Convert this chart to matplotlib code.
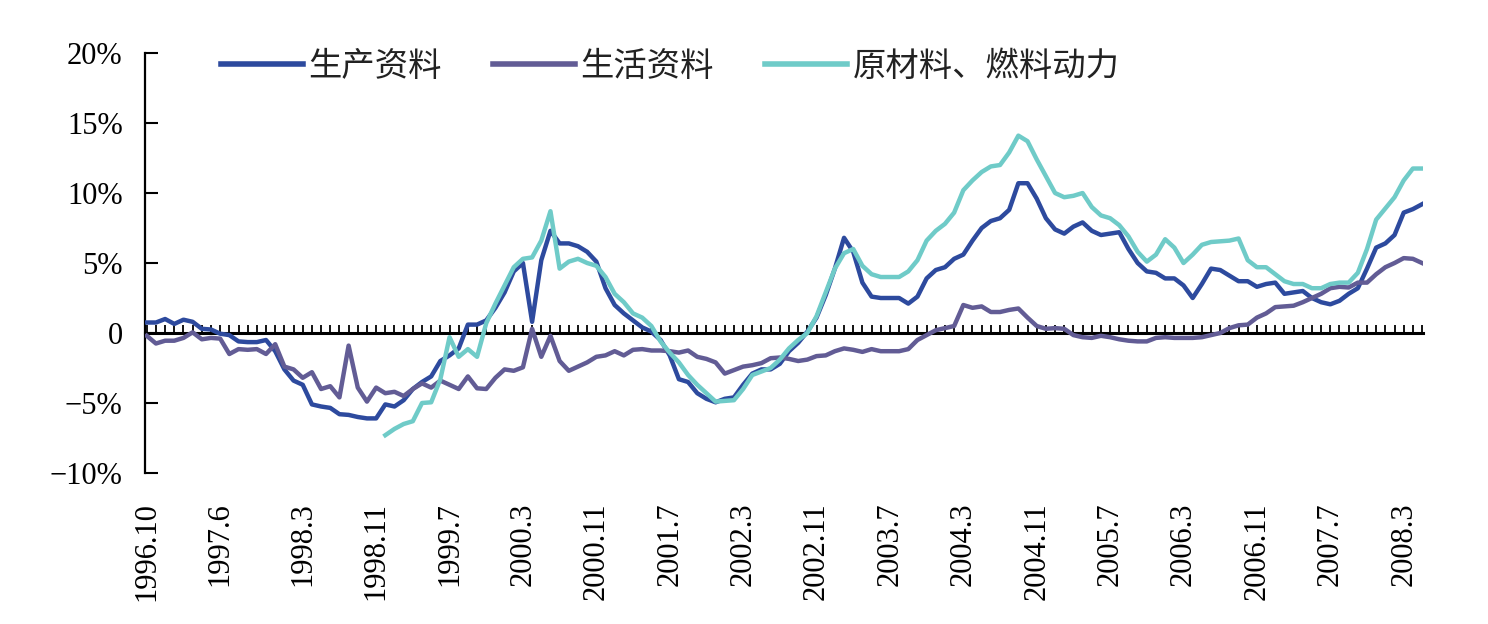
import matplotlib.pyplot as plt
import numpy as np

# monthly series, 1996.10 - 2008.5, year-on-year change in %
months = np.arange(140)

tick_labels = ['1996.10', '1997.6', '1998.3', '1998.11', '1999.7', '2000.3', '2000.11',
               '2001.7', '2002.3', '2002.11', '2003.7', '2004.3', '2004.11', '2005.7',
               '2006.3', '2006.11', '2007.7', '2008.3']
tick_idx = [0, 8, 17, 25, 33, 41, 49, 57, 65, 73, 81, 89, 97, 105, 113, 121, 129, 137]

production = [
    0.75, 0.75, 1.0, 0.65, 0.95, 0.8, 0.3, 0.25, -0.05, -0.15,
    -0.6, -0.65, -0.65, -0.5, -1.3, -2.6, -3.4, -3.7, -5.1, -5.25,
    -5.35, -5.8, -5.85, -6.0, -6.1, -6.1, -5.1, -5.25, -4.8, -4.0,
    -3.5, -3.1, -2.0, -1.6, -1.1, 0.6, 0.6, 0.9, 1.8, 2.9,
    4.4, 5.0, 0.8, 5.2, 7.3, 6.4, 6.4, 6.2, 5.8, 5.1,
    3.2, 2.0, 1.4, 0.9, 0.4, 0.1, -0.5, -1.6, -3.3, -3.5,
    -4.3, -4.7, -4.95, -4.7, -4.6, -3.7, -2.9, -2.6, -2.6, -2.2,
    -1.3, -0.7, 0.1, 1.1, 2.7, 4.6, 6.8, 5.8, 3.6, 2.6,
    2.5, 2.5, 2.5, 2.1, 2.6, 3.9, 4.5, 4.7, 5.3, 5.6,
    6.6, 7.5, 8.0, 8.2, 8.8, 10.7, 10.7, 9.6, 8.2, 7.4,
    7.1, 7.6, 7.9, 7.3, 7.0, 7.1, 7.2, 6.0, 5.0, 4.4,
    4.3, 3.9, 3.9, 3.4, 2.5, 3.5, 4.6, 4.5, 4.1, 3.7,
    3.7, 3.3, 3.5, 3.6, 2.8, 2.9, 3.0, 2.5, 2.2, 2.05,
    2.3, 2.8, 3.2, 4.6, 6.1, 6.4, 7.0, 8.6, 8.85, 9.2,
]

consumer = [
    -0.2, -0.75, -0.55, -0.55, -0.35, 0.05, -0.45, -0.35, -0.4, -1.5,
    -1.15, -1.2, -1.15, -1.5, -0.8, -2.4, -2.6, -3.2, -2.8, -4.0,
    -3.8, -4.6, -0.9, -3.9, -4.9, -3.9, -4.3, -4.2, -4.5, -4.0,
    -3.6, -3.9, -3.4, -3.7, -4.0, -3.1, -3.95, -4.0, -3.2, -2.6,
    -2.7, -2.45, 0.3, -1.7, -0.2, -2.0, -2.7, -2.4, -2.1, -1.7,
    -1.6, -1.3, -1.6, -1.2, -1.15, -1.25, -1.25, -1.3, -1.4, -1.25,
    -1.7, -1.85, -2.1, -2.9, -2.65, -2.4, -2.3, -2.15, -1.8, -1.75,
    -1.85, -2.0, -1.9, -1.65, -1.6, -1.3, -1.1, -1.2, -1.35, -1.15,
    -1.3, -1.3, -1.3, -1.15, -0.5, -0.15, 0.2, 0.35, 0.5, 2.0,
    1.8, 1.9, 1.5, 1.5, 1.65, 1.75, 1.1, 0.5, 0.3, 0.35,
    0.3, -0.15, -0.3, -0.35, -0.2, -0.3, -0.45, -0.55, -0.6, -0.6,
    -0.35, -0.3, -0.35, -0.35, -0.35, -0.3, -0.15, 0.0, 0.35, 0.55,
    0.6, 1.1, 1.4, 1.85, 1.9, 1.95, 2.2, 2.5, 2.8, 3.2,
    3.3, 3.25, 3.6, 3.6, 4.2, 4.7, 5.0, 5.35, 5.3, 5.0,
]

raw_fuel = [np.nan] * 26 + [
    -7.3, -6.85, -6.5, -6.3,
    -5.0, -4.95, -3.3, -0.3, -1.7, -1.15, -1.7, 0.7, 2.1, 3.4,
    4.7, 5.3, 5.4, 6.6, 8.7, 4.6, 5.1, 5.3, 5.0, 4.8,
    4.0, 2.8, 2.2, 1.4, 1.1, 0.5, -0.6, -1.4, -2.1, -3.0,
    -3.7, -4.3, -4.9, -4.85, -4.8, -4.0, -3.0, -2.75, -2.5, -1.9,
    -1.1, -0.5, 0.0, 1.2, 2.9, 4.6, 5.7, 6.0, 4.8, 4.2,
    4.0, 4.0, 4.0, 4.4, 5.2, 6.6, 7.3, 7.8, 8.6, 10.2,
    10.9, 11.5, 11.9, 12.0, 12.9, 14.1, 13.7, 12.4, 11.2, 10.0,
    9.7, 9.8, 10.0, 9.0, 8.4, 8.2, 7.7, 6.9, 5.8, 5.1,
    5.6, 6.7, 6.1, 5.0, 5.6, 6.3, 6.5, 6.55, 6.6, 6.75,
    5.2, 4.7, 4.7, 4.2, 3.7, 3.5, 3.5, 3.2, 3.2, 3.5,
    3.6, 3.6, 4.3, 6.0, 8.1, 8.9, 9.7, 10.9, 11.75, 11.75,
]

fig = plt.figure(figsize=(14.88, 6.24), dpi=100)
ax = fig.add_axes([0.0974, 0.242, 0.8589, 0.673])

ax.plot(months, production, color='#2D4A9E', lw=3.2, label='生产资料', zorder=3)
ax.plot(months, consumer, color='#625C95', lw=3.2, label='生活资料', zorder=3)
ax.plot(months, raw_fuel, color='#6FCBC8', lw=3.2, label='原材料、燃料动力', zorder=3)

ax.set_xlim(-0.2, 139.1)
ax.set_ylim(-10, 20)

# y axis
ax.set_yticks([-10, -5, 0, 5, 10, 15, 20],
              ['\u221210%', '\u22125%', '0', '5%', '10%', '15%', '20%'])
ax.tick_params(axis='y', direction='in', length=9.5, width=1.5, pad=16, labelsize=22)
for t in ax.get_yticklabels():
    t.set_fontfamily('Liberation Serif')
ax.spines[['top', 'right']].set_visible(False)
ax.spines['left'].set_linewidth(1.6)

# x axis runs along zero, monthly ticks pointing up
ax.spines['bottom'].set_position(('data', 0))
ax.spines['bottom'].set_linewidth(2.2)
ax.set_xticks(months)
ax.tick_params(axis='x', direction='in', length=6, width=1.3, labelbottom=False)

# date labels sit under the plot
sec = ax.secondary_xaxis(0)
sec.set_xticks(tick_idx, labels=tick_labels)
sec.tick_params(length=0, pad=21, labelsize=22, labelrotation=90)
sec.spines['bottom'].set_visible(False)
for t in sec.get_xticklabels():
    t.set_fontfamily('Liberation Serif')

leg = ax.legend(loc='center left', bbox_to_anchor=(191 / 1488, 0.894), bbox_transform=fig.transFigure,
                ncol=3, frameon=False, handlelength=2.46, handletextpad=0.15, columnspacing=1.55,
                prop={'family': 'Noto Sans CJK SC', 'size': 24}, labelcolor='#222222')
for h in leg.legend_handles:
    h.set_linewidth(4)

fig.savefig('out.png', dpi=100)
